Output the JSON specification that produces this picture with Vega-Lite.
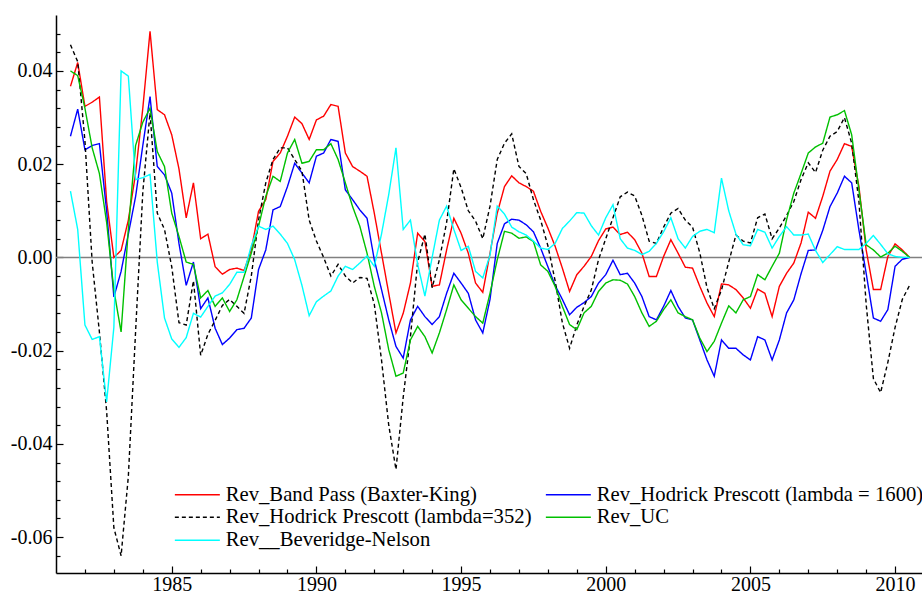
{
  "$schema": "https://vega.github.io/schema/vega-lite/v6.json",
  "width": 866,
  "height": 558,
  "autosize": {"type": "none"},
  "padding": {"left": 56, "top": 15, "right": 0, "bottom": 20},
  "background": "white",
  "config": {"view": {"stroke": null}, "font": "Liberation Serif"},
  "datasets": {
    "s": [
      {"t":1981.5,"a":0.0367,"b":0.026,"c":0.0456,"d":0.040,"e":0.0142},
      {"t":1981.75,"a":0.0418,"b":0.0318,"c":0.042,"d":0.039,"e":0.006},
      {"t":1982,"a":0.0324,"b":0.0231,"c":0.025,"d":0.032,"e":-0.0145},
      {"t":1982.25,"a":0.0333,"b":0.024,"c":-0.001,"d":0.0235,"e":-0.0176},
      {"t":1982.5,"a":0.0344,"b":0.0244,"c":-0.016,"d":0.018,"e":-0.017},
      {"t":1982.75,"a":0.012,"b":0.010,"c":-0.033,"d":0.0075,"e":-0.031},
      {"t":1983,"a":0.000,"b":-0.0085,"c":-0.058,"d":-0.007,"e":-0.015},
      {"t":1983.25,"a":0.0015,"b":-0.003,"c":-0.064,"d":-0.016,"e":0.040},
      {"t":1983.5,"a":0.008,"b":0.005,"c":-0.047,"d":0.006,"e":0.0389},
      {"t":1983.75,"a":0.018,"b":0.013,"c":-0.016,"d":0.024,"e":0.0167},
      {"t":1984,"a":0.032,"b":0.024,"c":0.014,"d":0.029,"e":0.0171},
      {"t":1984.25,"a":0.0485,"b":0.0345,"c":0.031,"d":0.032,"e":0.0178},
      {"t":1984.5,"a":0.0317,"b":0.0195,"c":0.0095,"d":0.0227,"e":-0.001},
      {"t":1984.75,"a":0.0306,"b":0.0177,"c":0.006,"d":0.0195,"e":-0.013},
      {"t":1985,"a":0.0263,"b":0.0138,"c":-0.002,"d":0.0095,"e":-0.0175},
      {"t":1985.25,"a":0.019,"b":0.003,"c":-0.014,"d":0.0045,"e":-0.0193},
      {"t":1985.5,"a":0.0085,"b":-0.006,"c":-0.0145,"d":-0.001,"e":-0.0172},
      {"t":1985.75,"a":0.016,"b":-0.001,"c":-0.005,"d":-0.0015,"e":-0.012},
      {"t":1986,"a":0.004,"b":-0.011,"c":-0.021,"d":-0.0087,"e":-0.0128},
      {"t":1986.25,"a":0.005,"b":-0.0087,"c":-0.0165,"d":-0.0071,"e":-0.0105},
      {"t":1986.5,"a":-0.002,"b":-0.0152,"c":-0.0135,"d":-0.0105,"e":-0.0083},
      {"t":1986.75,"a":-0.0036,"b":-0.0187,"c":-0.0103,"d":-0.0087,"e":-0.0076},
      {"t":1987,"a":-0.0026,"b":-0.0173,"c":-0.009,"d":-0.0116,"e":-0.0058},
      {"t":1987.25,"a":-0.0023,"b":-0.0155,"c":-0.0105,"d":-0.0091,"e":-0.0032},
      {"t":1987.5,"a":-0.0028,"b":-0.0152,"c":-0.012,"d":-0.0041,"e":-0.0032},
      {"t":1987.75,"a":0.0016,"b":-0.013,"c":-0.004,"d":0.0009,"e":0.0025},
      {"t":1988,"a":0.0099,"b":-0.0026,"c":0.008,"d":0.0067,"e":0.0067},
      {"t":1988.25,"a":0.0124,"b":0.0016,"c":0.016,"d":0.0131,"e":0.006},
      {"t":1988.5,"a":0.0206,"b":0.0102,"c":0.021,"d":0.0174,"e":0.0067},
      {"t":1988.75,"a":0.0224,"b":0.0109,"c":0.0235,"d":0.0163,"e":0.005},
      {"t":1989,"a":0.026,"b":0.0152,"c":0.0235,"d":0.0224,"e":0.003},
      {"t":1989.25,"a":0.0301,"b":0.0202,"c":0.021,"d":0.0253,"e":-0.0005},
      {"t":1989.5,"a":0.0287,"b":0.0181,"c":0.0185,"d":0.0202,"e":-0.006},
      {"t":1989.75,"a":0.0253,"b":0.016,"c":0.008,"d":0.0206,"e":-0.0125},
      {"t":1990,"a":0.0295,"b":0.0217,"c":0.0035,"d":0.0231,"e":-0.0095},
      {"t":1990.25,"a":0.0303,"b":0.0224,"c":0.000,"d":0.0231,"e":-0.0083},
      {"t":1990.5,"a":0.0328,"b":0.0253,"c":-0.004,"d":0.0244,"e":-0.0072},
      {"t":1990.75,"a":0.0324,"b":0.0249,"c":-0.0015,"d":0.021,"e":-0.004},
      {"t":1991,"a":0.0224,"b":0.0145,"c":-0.004,"d":0.016,"e":-0.0019},
      {"t":1991.25,"a":0.0195,"b":0.0124,"c":-0.0055,"d":0.0109,"e":-0.0026},
      {"t":1991.5,"a":0.0185,"b":0.0102,"c":-0.0043,"d":0.0067,"e":-0.0012},
      {"t":1991.75,"a":0.0174,"b":0.0084,"c":-0.0045,"d":0.0009,"e":0.0003},
      {"t":1992,"a":0.0095,"b":-0.0005,"c":-0.010,"d":-0.0062,"e":-0.0019},
      {"t":1992.25,"a":0.0009,"b":-0.0069,"c":-0.022,"d":-0.0119,"e":0.005},
      {"t":1992.5,"a":-0.0077,"b":-0.0134,"c":-0.036,"d":-0.0198,"e":0.0135},
      {"t":1992.75,"a":-0.0162,"b":-0.0191,"c":-0.0455,"d":-0.0255,"e":0.0235},
      {"t":1993,"a":-0.012,"b":-0.0216,"c":-0.030,"d":-0.0248,"e":0.006},
      {"t":1993.25,"a":-0.0055,"b":-0.0134,"c":-0.017,"d":-0.0177,"e":0.008},
      {"t":1993.5,"a":0.0052,"b":-0.0105,"c":-0.001,"d":-0.0148,"e":-0.0015},
      {"t":1993.75,"a":0.0034,"b":-0.0127,"c":0.005,"d":-0.017,"e":-0.0083},
      {"t":1994,"a":-0.0062,"b":-0.0144,"c":-0.0065,"d":-0.0205,"e":0.000},
      {"t":1994.25,"a":-0.0059,"b":-0.0127,"c":-0.0005,"d":-0.0162,"e":0.008},
      {"t":1994.5,"a":0.0016,"b":-0.0077,"c":0.0075,"d":-0.0112,"e":0.011},
      {"t":1994.75,"a":0.0084,"b":-0.0034,"c":0.019,"d":-0.0059,"e":0.006},
      {"t":1995,"a":0.0052,"b":-0.0055,"c":0.015,"d":-0.0091,"e":0.0015},
      {"t":1995.25,"a":0.0009,"b":-0.0077,"c":0.010,"d":-0.0109,"e":0.0024},
      {"t":1995.5,"a":-0.0055,"b":-0.0134,"c":0.0078,"d":-0.0127,"e":-0.003},
      {"t":1995.75,"a":-0.0075,"b":-0.0162,"c":0.004,"d":-0.0141,"e":-0.0044},
      {"t":1996,"a":0.0009,"b":-0.009,"c":0.011,"d":-0.0077,"e":0.0005},
      {"t":1996.25,"a":0.0095,"b":0.003,"c":0.021,"d":-0.0005,"e":0.011},
      {"t":1996.5,"a":0.0152,"b":0.0072,"c":0.0245,"d":0.0056,"e":0.0093},
      {"t":1996.75,"a":0.0175,"b":0.0082,"c":0.0265,"d":0.0052,"e":0.0065},
      {"t":1997,"a":0.016,"b":0.008,"c":0.0195,"d":0.0041,"e":0.0055},
      {"t":1997.25,"a":0.0152,"b":0.007,"c":0.018,"d":0.0044,"e":0.0048},
      {"t":1997.5,"a":0.0142,"b":0.0055,"c":0.0124,"d":0.0034,"e":0.0035},
      {"t":1997.75,"a":0.0099,"b":0.002,"c":0.008,"d":-0.0016,"e":0.002},
      {"t":1998,"a":0.0063,"b":-0.002,"c":0.0025,"d":-0.003,"e":0.0017},
      {"t":1998.25,"a":0.0024,"b":-0.006,"c":-0.005,"d":-0.0062,"e":0.003},
      {"t":1998.5,"a":-0.0023,"b":-0.009,"c":-0.014,"d":-0.0105,"e":0.0062},
      {"t":1998.75,"a":-0.0073,"b":-0.0123,"c":-0.0195,"d":-0.0144,"e":0.0078},
      {"t":1999,"a":-0.0037,"b":-0.0107,"c":-0.0145,"d":-0.0155,"e":0.0096},
      {"t":1999.25,"a":-0.0019,"b":-0.0097,"c":-0.0105,"d":-0.0119,"e":0.0095},
      {"t":1999.5,"a":0.0002,"b":-0.0084,"c":-0.007,"d":-0.0105,"e":0.0068},
      {"t":1999.75,"a":0.0036,"b":-0.0055,"c":-0.0005,"d":-0.0073,"e":0.0048},
      {"t":2000,"a":0.0061,"b":-0.0037,"c":0.004,"d":-0.0055,"e":0.0085},
      {"t":2000.25,"a":0.0065,"b":-0.0006,"c":0.0085,"d":-0.0048,"e":0.0113},
      {"t":2000.5,"a":0.0049,"b":-0.0037,"c":0.013,"d":-0.0049,"e":0.004},
      {"t":2000.75,"a":0.0054,"b":-0.0034,"c":0.014,"d":-0.0057,"e":0.002},
      {"t":2001,"a":0.0038,"b":-0.0055,"c":0.0132,"d":-0.0084,"e":0.0015},
      {"t":2001.25,"a":0.0009,"b":-0.0084,"c":0.009,"d":-0.0119,"e":0.0006},
      {"t":2001.5,"a":-0.0041,"b":-0.0127,"c":0.0035,"d":-0.0148,"e":0.0013},
      {"t":2001.75,"a":-0.0041,"b":-0.0134,"c":0.003,"d":-0.0137,"e":0.003},
      {"t":2002,"a":0.0002,"b":-0.0105,"c":0.0065,"d":-0.0112,"e":0.0055},
      {"t":2002.25,"a":0.0038,"b":-0.0071,"c":0.0095,"d":-0.0091,"e":0.0085},
      {"t":2002.5,"a":0.0009,"b":-0.0105,"c":0.0105,"d":-0.0119,"e":0.004},
      {"t":2002.75,"a":-0.0021,"b":-0.013,"c":0.008,"d":-0.0127,"e":0.002},
      {"t":2003,"a":-0.0023,"b":-0.0134,"c":0.0065,"d":-0.0134,"e":0.0045},
      {"t":2003.25,"a":-0.0062,"b":-0.0177,"c":0.001,"d":-0.0173,"e":0.0056},
      {"t":2003.5,"a":-0.0098,"b":-0.022,"c":-0.0065,"d":-0.0202,"e":0.006},
      {"t":2003.75,"a":-0.0127,"b":-0.0255,"c":-0.011,"d":-0.018,"e":0.0053},
      {"t":2004,"a":-0.0057,"b":-0.0177,"c":-0.007,"d":-0.0141,"e":0.017},
      {"t":2004.25,"a":-0.0059,"b":-0.0195,"c":-0.001,"d":-0.0104,"e":0.010},
      {"t":2004.5,"a":-0.0069,"b":-0.0195,"c":0.0048,"d":-0.0119,"e":0.005},
      {"t":2004.75,"a":-0.0087,"b":-0.0209,"c":0.0035,"d":-0.0091,"e":0.0027},
      {"t":2005,"a":-0.0109,"b":-0.022,"c":0.0031,"d":-0.0084,"e":0.0025},
      {"t":2005.25,"a":-0.0068,"b":-0.017,"c":0.0085,"d":-0.0037,"e":0.006},
      {"t":2005.5,"a":-0.0077,"b":-0.0177,"c":0.0093,"d":-0.0048,"e":0.0054},
      {"t":2005.75,"a":-0.0127,"b":-0.022,"c":0.004,"d":-0.0019,"e":0.002},
      {"t":2006,"a":-0.0062,"b":-0.0177,"c":0.0063,"d":0.0009,"e":0.0045},
      {"t":2006.25,"a":-0.0034,"b":-0.0119,"c":0.009,"d":0.0081,"e":0.0066},
      {"t":2006.5,"a":-0.0012,"b":-0.0091,"c":0.012,"d":0.0138,"e":0.0048},
      {"t":2006.75,"a":0.0031,"b":-0.0035,"c":0.0167,"d":0.018,"e":0.0048},
      {"t":2007,"a":0.0097,"b":0.0015,"c":0.0203,"d":0.0224,"e":0.005},
      {"t":2007.25,"a":0.0084,"b":0.0016,"c":0.0182,"d":0.0237,"e":0.0015},
      {"t":2007.5,"a":0.0131,"b":0.0058,"c":0.023,"d":0.0245,"e":-0.0011},
      {"t":2007.75,"a":0.0185,"b":0.0109,"c":0.026,"d":0.0301,"e":0.0006},
      {"t":2008,"a":0.021,"b":0.0138,"c":0.027,"d":0.0306,"e":0.0023},
      {"t":2008.25,"a":0.0244,"b":0.0174,"c":0.030,"d":0.0315,"e":0.0017},
      {"t":2008.5,"a":0.0238,"b":0.016,"c":0.0245,"d":0.0263,"e":0.0017},
      {"t":2008.75,"a":0.0152,"b":0.0059,"c":0.012,"d":0.0145,"e":0.0017},
      {"t":2009,"a":0.0016,"b":-0.0034,"c":-0.010,"d":0.0027,"e":0.003},
      {"t":2009.25,"a":-0.0069,"b":-0.013,"c":-0.026,"d":0.0016,"e":0.0047},
      {"t":2009.5,"a":-0.0069,"b":-0.0137,"c":-0.029,"d":0.0001,"e":0.0028},
      {"t":2009.75,"a":0.0002,"b":-0.0112,"c":-0.0225,"d":0.0009,"e":0.0008},
      {"t":2010,"a":0.0029,"b":-0.0019,"c":-0.015,"d":0.0024,"e":0.0002},
      {"t":2010.25,"a":0.0016,"b":-0.0004,"c":-0.009,"d":0.0013,"e":0.0},
      {"t":2010.5,"a":0.0,"b":0.0,"c":-0.006,"d":0.0,"e":0.0}
    ]
  },
  "layer": [
    {
      "data": {"values": [{"value": 0}]},
      "mark": {"type": "rule", "color": "#808080", "strokeWidth": 1.5},
      "encoding": {
        "y": {
          "field": "value", "type": "quantitative",
          "scale": {"domain": [-0.0677, 0.052], "nice": false, "zero": false},
          "axis": {
            "title": null, "grid": false,
            "values": [-0.064,-0.06,-0.056,-0.052,-0.048,-0.044,-0.04,-0.036,-0.032,-0.028,-0.024,-0.02,-0.016,-0.012,-0.008,-0.004,0,0.004,0.008,0.012,0.016,0.02,0.024,0.028,0.032,0.036,0.04,0.044,0.048],
            "labelExpr": "abs(round(datum.value*1000)) % 20 == 0 ? (datum.value < -0.0001 ? '-' : '') + format(abs(datum.value), '.2f') : ''",
            "domainColor": "#000", "domainWidth": 1.5,
            "tickColor": "#000", "tickWidth": 1.2,
            "tickSize": {"condition": {"test": "abs(round(datum.value*1000)) % 20 == 0", "value": -7}, "value": -4},
            "labelFont": "Liberation Serif", "labelFontSize": 20, "labelColor": "#000",
            "labelPadding": 11, "labelFlush": false, "labelOverlap": false, "labelBound": false
          }
        }
      }
    },
    {
      "data": {"name": "s"},
      "transform": [{"fold": ["a", "b", "c", "d", "e"], "as": ["key", "value"]}],
      "mark": {"type": "line", "strokeWidth": 1.4, "clip": true},
      "encoding": {
        "x": {
          "field": "t", "type": "quantitative",
          "scale": {"domain": [1981, 2010.93], "nice": false, "zero": false},
          "axis": {
            "title": null, "grid": false,
            "values": [1982,1983,1984,1985,1986,1987,1988,1989,1990,1991,1992,1993,1994,1995,1996,1997,1998,1999,2000,2001,2002,2003,2004,2005,2006,2007,2008,2009,2010],
            "labelExpr": "datum.value % 5 == 0 ? '' + datum.value : ''",
            "domainColor": "#000", "domainWidth": 1.5,
            "tickColor": "#000", "tickWidth": 1.2,
            "tickSize": {"condition": {"test": "datum.value % 5 == 0", "value": -7}, "value": -4},
            "labelFont": "Liberation Serif", "labelFontSize": 20, "labelColor": "#000",
            "labelPadding": 8, "labelFlush": false, "labelOverlap": false
          }
        },
        "y": {
          "field": "value", "type": "quantitative",
          "scale": {"domain": [-0.0677, 0.052], "nice": false, "zero": false},
          "axis": {
            "title": null, "grid": false,
            "values": [-0.064,-0.06,-0.056,-0.052,-0.048,-0.044,-0.04,-0.036,-0.032,-0.028,-0.024,-0.02,-0.016,-0.012,-0.008,-0.004,0,0.004,0.008,0.012,0.016,0.02,0.024,0.028,0.032,0.036,0.04,0.044,0.048],
            "labelExpr": "abs(round(datum.value*1000)) % 20 == 0 ? (datum.value < -0.0001 ? '-' : '') + format(abs(datum.value), '.2f') : ''",
            "domainColor": "#000", "domainWidth": 1.5,
            "tickColor": "#000", "tickWidth": 1.2,
            "tickSize": {"condition": {"test": "abs(round(datum.value*1000)) % 20 == 0", "value": -7}, "value": -4},
            "labelFont": "Liberation Serif", "labelFontSize": 20, "labelColor": "#000",
            "labelPadding": 11, "labelFlush": false, "labelOverlap": false, "labelBound": false
          }
        },
        "color": {
          "field": "key", "type": "nominal",
          "scale": {"domain": ["a", "c", "e", "b", "d"], "range": ["#ff0000", "#000000", "#00ffff", "#0000ff", "#00c000"]},
          "legend": {
            "orient": "none", "legendX": 131, "legendY": 469, "columns": 2,
            "columnPadding": 10, "rowPadding": 1, "padding": 0,
            "symbolType": "M-4.5,0H4.5", "symbolSize": 100, "symbolStrokeWidth": 1.5,
            "labelFont": "Liberation Serif", "labelFontSize": 20.7, "labelColor": "#000",
            "labelLimit": 500, "labelOffset": 18, "title": null,
            "labelExpr": "datum.value == 'a' ? 'Rev_Band Pass (Baxter-King)' : datum.value == 'b' ? 'Rev_Hodrick Prescott (lambda = 1600)' : datum.value == 'c' ? 'Rev_Hodrick Prescott (lambda=352)' : datum.value == 'd' ? 'Rev_UC' : 'Rev__Beveridge-Nelson'"
          }
        },
        "strokeDash": {
          "field": "key", "type": "nominal",
          "scale": {"domain": ["a", "c", "e", "b", "d"], "range": [[1, 0], [4, 3], [1, 0], [1, 0], [1, 0]]},
          "legend": {
            "orient": "none", "legendX": 131, "legendY": 469, "columns": 2,
            "columnPadding": 10, "rowPadding": 1, "padding": 0,
            "symbolType": "M-4.5,0H4.5", "symbolSize": 100, "symbolStrokeWidth": 1.5,
            "labelFont": "Liberation Serif", "labelFontSize": 20.7, "labelColor": "#000",
            "labelLimit": 500, "labelOffset": 18, "title": null,
            "labelExpr": "datum.value == 'a' ? 'Rev_Band Pass (Baxter-King)' : datum.value == 'b' ? 'Rev_Hodrick Prescott (lambda = 1600)' : datum.value == 'c' ? 'Rev_Hodrick Prescott (lambda=352)' : datum.value == 'd' ? 'Rev_UC' : 'Rev__Beveridge-Nelson'"
          }
        }
      }
    }
  ]
}
